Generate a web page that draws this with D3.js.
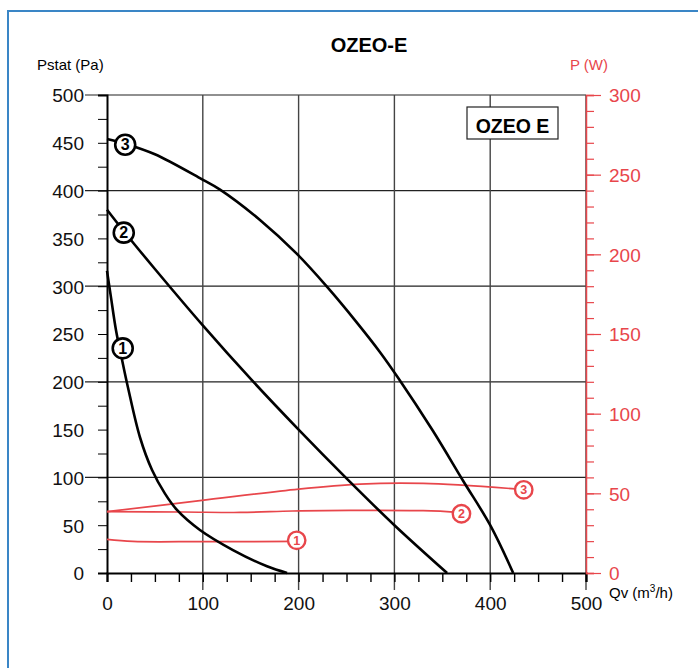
<!DOCTYPE html>
<html>
<head>
<meta charset="utf-8">
<script src="https://cdn.jsdelivr.net/npm/d3@7"></script>
<style>
body { margin: 0; background: #fff; }
svg text { font-family: "Liberation Sans", Arial, sans-serif; }
.tick text { font-family: "Liberation Sans Narrow", "Liberation Sans", Arial, sans-serif; font-stretch: condensed; font-size: 19px; }
</style>
</head>
<body>
<div id="chart"></div>
<script>
// pressure curves, Qv (m3/h) vs Pstat (Pa)
var curve1 = [[0,316],[4.2,288],[9.4,254],[15.7,223],[21.9,194],[34.4,142],[46.9,108],[60.5,83],[73,66],[97,45],[131.5,24],[167,7],[188,0]];
var curve2 = [[0,380],[18,357],[50,318],[100,259],[150,203],[200,150],[250,99],[300,50],[355,0]];
var curve3 = [[0,454],[19,449],[50,438],[97,413],[118,401],[160,369],[198,334],[230,299],[260,263],[285,231],[304,204],[340,149],[372,96],[400,50],[424,0]];
// power curves, Qv vs P (W)
var power1 = [[0,21.1],[27,19.8],[100,19.7],[198,19.8]];
var power2 = [[0,38.5],[80,38.3],[139,38.0],[194,38.9],[254,39.3],[330,39.1],[370,38.0]];
var power3 = [[0,38.5],[97,45.4],[200,52.7],[264,55.8],[330,56.2],[435,52.4]];

var curveLabels = [{n:"1", q:16.4, p:235}, {n:"2", q:17.5, p:356}, {n:"3", q:19, p:448}];
var powerLabels = [{n:"1", q:198, w:20.5}, {n:"2", q:370, w:37.2}, {n:"3", q:435, w:52.2}];

var qvTicks = [0,100,200,300,400,500];
var paTicks = [0,50,100,150,200,250,300,350,400,450,500];
var wTicks = [0,50,100,150,200,250,300];

var W = 698, H = 668;
var red = "#e8464b";
var mL = 107, mR = 586, mT = 95, mB = 573;

var svg = d3.select("#chart").append("svg").attr("width", W).attr("height", H);

// frame
svg.append("rect").attr("x", 8).attr("y", 11).attr("width", 760).attr("height", 720)
    .attr("fill", "none").attr("stroke", "#3a86c6").attr("stroke-width", 2);

var x = d3.scaleLinear().domain([0, 500]).range([mL, mR]);
var y = d3.scaleLinear().domain([0, 500]).range([mB, mT]);
var yR = d3.scaleLinear().domain([0, 300]).range([mB, mT]);

// grid
svg.selectAll(".hgrid").data([100,200,300,400,500]).enter().append("line")
    .attr("x1", mL - 22).attr("x2", mR)
    .attr("y1", d => y(d)).attr("y2", d => y(d))
    .attr("stroke", "#222").attr("stroke-width", 1.2);
svg.selectAll(".vgrid").data([100,200,300,400,500]).enter().append("line")
    .attr("x1", d => x(d)).attr("x2", d => x(d))
    .attr("y1", mT).attr("y2", mB + 17)
    .attr("stroke", "#444").attr("stroke-width", 1.4);

// left axis
svg.append("g").attr("transform", `translate(${mL},0)`)
    .call(d3.axisLeft(y).tickValues(d3.range(0, 501, 25)).tickSize(9).tickFormat(""))
    .call(g => g.select(".domain").attr("stroke-width", 2));
svg.append("g").attr("transform", `translate(${mL},0)`)
    .call(d3.axisLeft(y).tickValues(paTicks).tickSize(0).tickPadding(23))
    .call(g => g.select(".domain").remove())
    .call(g => g.selectAll("text").attr("fill", "#111").attr("dy", "0.36em"));

// bottom axis
svg.append("g").attr("transform", `translate(0,${mB})`)
    .call(d3.axisBottom(x).tickValues(d3.range(0, 501, 25)).tickSize(9).tickFormat(""))
    .call(g => g.select(".domain").attr("stroke-width", 2.2))
    .call(g => g.selectAll("line").attr("stroke-width", 1.4));
svg.append("g").attr("transform", `translate(0,${mB})`)
    .call(d3.axisBottom(x).tickValues(qvTicks).tickSize(0).tickPadding(24))
    .call(g => g.select(".domain").remove())
    .call(g => g.selectAll("text").attr("fill", "#111"));

// right axis
svg.append("g").attr("transform", `translate(${mR},0)`)
    .call(d3.axisRight(yR).tickValues(d3.range(0, 301, 10)).tickSize(8).tickFormat(""))
    .call(g => g.select(".domain").attr("stroke", red).attr("stroke-width", 1.5))
    .call(g => g.selectAll("line").attr("stroke", red).attr("stroke-width", 1.2));
svg.append("g").attr("transform", `translate(${mR},0)`)
    .call(d3.axisRight(yR).tickValues(wTicks).tickSize(15).tickPadding(8))
    .call(g => g.select(".domain").remove())
    .call(g => g.selectAll("line").attr("stroke", red).attr("stroke-width", 1.2))
    .call(g => g.selectAll("text").attr("fill", red).attr("dy", "0.36em"));

// titles
svg.append("text").attr("x", 369).attr("y", 52).attr("text-anchor", "middle")
    .attr("font-size", 20).attr("font-weight", "bold").text("OZEO-E");
svg.append("text").attr("x", 37).attr("y", 70).attr("font-size", 15).text("Pstat (Pa)");
svg.append("text").attr("x", 608).attr("y", 70).attr("text-anchor", "end")
    .attr("font-size", 15).attr("fill", red).text("P (W)");
var qv = svg.append("text").attr("x", 609).attr("y", 598).attr("font-size", 15);
qv.append("tspan").text("Qv (m");
qv.append("tspan").attr("font-size", 10).attr("dy", -6).text("3");
qv.append("tspan").attr("dy", 6).text("/h)");

// model box
svg.append("rect").attr("x", 467).attr("y", 107).attr("width", 91).attr("height", 32)
    .attr("fill", "#fff").attr("stroke", "#222").attr("stroke-width", 1.2);
svg.append("text").attr("x", 512.5).attr("y", 133).attr("text-anchor", "middle")
    .attr("font-size", 19.5).attr("font-weight", "bold").text("OZEO E");

// power lines
var lineR = d3.line().x(d => x(d[0])).y(d => yR(d[1])).curve(d3.curveCatmullRom.alpha(0.5));
svg.selectAll(".pw").data([power1, power2, power3]).enter().append("path")
    .attr("d", lineR).attr("fill", "none").attr("stroke", red).attr("stroke-width", 1.7);

// pressure curves
var lineP = d3.line().x(d => x(d[0])).y(d => y(d[1])).curve(d3.curveCatmullRom.alpha(0.5));
svg.selectAll(".pc").data([curve1, curve2, curve3]).enter().append("path")
    .attr("d", lineP).attr("fill", "none").attr("stroke", "#000").attr("stroke-width", 2.6);

// markers
var cm = svg.selectAll(".cm").data(curveLabels).enter().append("g")
    .attr("transform", d => `translate(${x(d.q)},${y(d.p)})`);
cm.append("circle").attr("r", 10).attr("fill", "#fff").attr("stroke", "#000").attr("stroke-width", 2.6);
cm.append("text").attr("text-anchor", "middle").attr("dy", "0.36em")
    .attr("font-size", 16).attr("font-weight", "bold").text(d => d.n);

var pm = svg.selectAll(".pm").data(powerLabels).enter().append("g")
    .attr("transform", d => `translate(${x(d.q)},${yR(d.w)})`);
pm.append("circle").attr("r", 8.7).attr("fill", "#fff").attr("stroke", red).attr("stroke-width", 2.4);
pm.append("text").attr("text-anchor", "middle").attr("dy", "0.36em").attr("fill", red)
    .attr("font-size", 12.5).attr("font-weight", "bold").text(d => d.n);
</script>
</body>
</html>
